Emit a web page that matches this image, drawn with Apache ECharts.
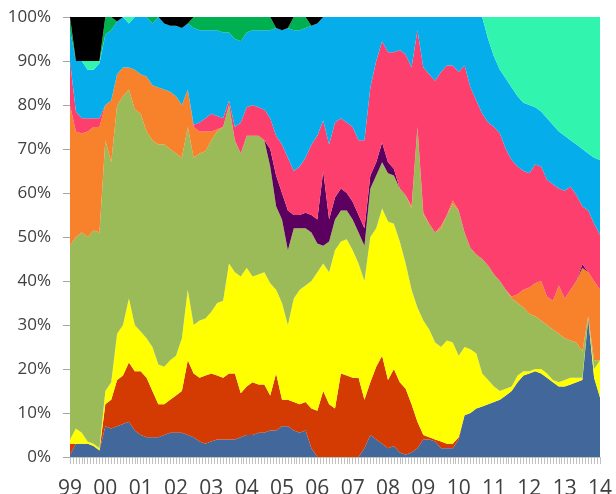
<!DOCTYPE html>
<html>
<head>
<meta charset="utf-8">
<script src="https://cdn.jsdelivr.net/npm/echarts@6/dist/echarts.min.js"></script>
<style>
  html, body { margin: 0; padding: 0; background: #fff; }
  #chart { width: 616px; height: 494px; }
</style>
</head>
<body>
<div id="chart"></div>
<script>
// Share of each group, sampled six times a year from Jan 1999 to Jan 2014 (percent).
const startYear = 1999;
const pointsPerYear = 6;
const yearLabels = ['99','00','01','02','03','04','05','06','07','08','09','10','11','12','13','14'];

const blueShare = [
  0.5,3,3,3,2.5,1.5, 7,6.5,7,7.5,8,6, 5,4.5,4.5,4.5,5,5.5, 5.5,5.5,5,4.5,3.5,3,
  3.5,4,4,4,4,4.5, 5,5,5.5,5.5,6,6, 7,7,6,5.5,6,2, 0,0,0,0,0,0,
  0,0,2,5,4,3, 2,2.5,1,0.5,1,2, 4,4,3.5,2,2,2, 4,9.5,10,11,11.5,12,
  12.5,13,14,15,17,18.5, 19,19.5,19,18,17,16, 16,16.5,17,17.5,31.5,18, 13.5];
const redShare = [
  2.5,0,0,0,0,0, 5,6.5,10.5,11,13.5,13.5, 14.5,13.5,10.5,7.5,7,7.5, 8.5,9.5,17,14.5,14.5,15.5,
  15.5,14.5,14,15,15,10, 11,12,11,11,8,13, 6,6,6.5,6.5,6.5,9, 10.5,15,12,11,19,18.5,
  18,18,11,12,16.5,20, 15.5,17.5,16,15,11,6, 1,0.5,0.5,1.5,1,1, 0.5,0,0,0,0,0,
  0,0,0,0,0,0, 0,0,0,0,0,0, 0,0,0,0,0,0, 0];
const yellowShare = [
  1,3.5,2.5,0.5,0.5,0.5, 3,4,10.5,11.5,14.5,10.5, 9,9,10,9,8.5,9, 9,12,16,11,13,13,
  14,16.5,17.5,25,23,26.5, 27,24,25,25.5,25.5,19, 22,17,23.5,26,26.5,29, 31.5,29,30,36,30,31,
  29,26,27,33,31.5,33.5, 36,33,32,28.5,26,26, 26,24.5,22,21.5,23.5,23, 18.5,15.5,14.5,12.5,7.5,5.5,
  3.5,2,1.5,1,1.5,1, 0.5,0.5,1,1,0.5,1, 1.5,1.5,1,0.5,0,2, 8.5];
const oliveShare = [
  44,43.5,45.5,46.5,48.5,49, 57,50,52,52,47.5,49, 49.5,47,47,50,50.5,48, 46,41,37,38,38,38,
  39,39,39.5,36,30,28, 30,32,31.5,30,26.5,19, 19,17,16,14,13,11, 6.5,4,7,7,7,6.5,
  7,7,8,11,12,10.5, 11,11,12,15.5,18.5,41, 24,24,25,27,28.5,31.5, 33,26,23,22.5,26,26,
  25.5,25,22.5,20,16.5,14.5, 13,12,11,11,11.5,11, 9.5,8.5,8,6,0.5,2, 0];
const orangeShare = [
  32,24,22.5,24,23.5,24, 8,14,7,6.5,5,9, 9,12.5,12.5,13,12.5,13, 13,12,8.5,7,5,4.5,
  2,0.5,0,0,0,0, 0,0,0,0,0,0, 0,0,0,0,0,0, 0,0,0,0,0,0,
  0,0,0,0,0,0, 0,0,0,0,0.5,0, 0.5,0,0,0.5,0,0.8, 0,0,0,0,0,0,
  0,0,0,0.5,2,4, 6,7.5,9,6.5,6.5,11, 9,11.5,14,19,10,18, 16];
const purpleShare = [
  0,0,0,0,0,0, 0,0,0,0,0,0, 0,0,0,0,0,0, 0,0,0,0,0,0,
  0,0,0,0,0,0, 0,0,0,0,4,7, 6,9,3,3,3.5,4, 5.5,17,5,5,5,4,
  4,4,4,3,3,4.5, 2.5,1.5,0,0,0,0, 0,0,0,0,0,0, 0,0,0,0,0,0,
  0,0,0,0,0,0, 0,0,0,0,0,0, 0,0,0,0.8,0,0, 0];
const pinkShare = [
  10,4.5,3.5,3,2,2, 0,0,0,0,0,0, 0,0,0,0,0,0, 0,0,0,0.5,2,3,
  4,3,2,1,3,7, 6.5,7,6.5,7,7,9, 11,12,10,11,12.5,16, 19,11.5,17,17,16,16,
  17,17,20,20,23,23, 25,26.5,31.5,32,31.5,22, 33,34,34.5,35,34,30.7, 31.5,38,36.5,35,33,32.5,
  33.5,33.5,32,31,29,27, 26,27,26,26.5,26.5,22, 24.5,23.5,19.5,13.2,14,13, 12.5];
const skyShare = [
  7,11.5,13,11,11,12.5, 16,16,12,11.5,10,12, 13,13.5,14,16,15,15, 16,17.5,15,22,21,20,
  19,19.5,19.5,15.5,20,18.5, 17,17,17.5,18,20,24.5, 26,29.5,32,31,29.5,27, 25.5,23.5,29,24,23,24,
  25,28,28,16,10,5.5, 8,8,7.5,8.5,11.5,3, 11.5,13,14.5,12.5,11,11, 12.5,11,16,19,22,19,
  16,14.5,16,16.5,16,15.5, 15.5,13,12.5,14,13.5,13, 12.5,10.5,11.5,13,13,15, 17];
const mintShare = [
  0,0,0,2,2,0.5, 0,0,0,0,1.5,0, 0,0,0,0,0,0, 0,0,0,0,0,0,
  0,0,0,0,0,0, 0,0,0,0,0,0, 0,0,0,0,0,0, 0,0,0,0,0,0,
  0,0,0,0,0,0, 0,0,0,0,0,0, 0,0,0,0,0,0, 0,0,0,0,0,5,
  9,12,14,16,18,19.5, 20,20.5,21.5,23,24.5,26, 27,28,29,30,31,32, 32.5];
const greenShare = [
  3,0,0,0,0,0, 4,3,0,0,0,0, 0,0,1.5,0,0,0, 0,0,0,2.5,3,3,
  3,3,3.5,3.5,5,5.5, 3.5,3,3,3,3,0, 0,0,3,3,2.5,0, 0,0,0,0,0,0,
  0,0,0,0,0,0, 0,0,0,0,0,0, 0,0,0,0,0,0, 0,0,0,0,0,0,
  0,0,0,0,0,0, 0,0,0,0,0,0, 0,0,0,0,0,0, 0];
const blackShare = [
  0,10,10,10,10,10, 0,0,1,0,0,0, 0,0,0,0,1.5,2, 2,2.5,1.5,0,0,0,
  0,0,0,0,0,0, 0,0,0,0,0,2.5, 3,2.5,0,0,0,2, 1.5,0,0,0,0,0,
  0,0,0,0,0,0, 0,0,0,0,0,0, 0,0,0,0,0,0, 0,0,0,0,0,0,
  0,0,0,0,0,0, 0,0,0,0,0,0, 0,0,0,0,0,0, 0];

// Stack order, bottom to top
const groups = [
  { values: blueShare,   color: '#41679B' },
  { values: redShare,    color: '#D33B03' },
  { values: yellowShare, color: '#FFFF00' },
  { values: oliveShare,  color: '#9BBB59' },
  { values: orangeShare, color: '#F7822B' },
  { values: purpleShare, color: '#5B005E' },
  { values: pinkShare,   color: '#FC3F6C' },
  { values: skyShare,    color: '#05AEEB' },
  { values: mintShare,   color: '#31F5AE' },
  { values: greenShare,  color: '#00B050' },
  { values: blackShare,  color: '#000000' }
];

// 100% stacking: scale every column to a total of 100
const n = blueShare.length;
const totals = [];
for (let i = 0; i < n; i++) {
  let t = 0;
  groups.forEach(g => { t += g.values[i]; });
  totals.push(t);
}

// Each item is [share, time]; the share comes first so the stack adds up shares.
const series = groups.map(g => ({
  type: 'line',
  stack: 'share',
  symbol: 'none',
  smooth: false,
  encode: { x: 1, y: 0 },
  lineStyle: { width: 0 },
  areaStyle: { color: g.color, opacity: 1 },
  itemStyle: { color: g.color },
  data: g.values.map((v, i) => [v / totals[i] * 100, startYear + i / pointsPerYear])
}));

const chart = echarts.init(document.getElementById('chart'), null, { renderer: 'canvas' });
chart.setOption({
  animation: false,
  backgroundColor: '#ffffff',
  grid: { left: 70, right: 16, top: 17, bottom: 37, containLabel: false, outerBoundsMode: 'none' },
  xAxis: {
    type: 'value',
    min: startYear,
    max: startYear + yearLabels.length - 1,
    interval: 1,
    axisLine: { show: true, lineStyle: { color: '#BFBFBF', width: 1 } },
    axisTick: { show: true, length: 7, lineStyle: { color: '#BFBFBF' } },
    minorTick: { show: true, splitNumber: 12, length: 7, lineStyle: { color: '#BFBFBF' } },
    splitLine: { show: false },
    axisLabel: {
      margin: 22,
      color: '#404040',
      fontFamily: 'Open Sans',
      fontSize: 21,
      formatter: v => {
        const k = Math.round(v - startYear);
        return Math.abs(v - startYear - k) < 1e-6 ? (yearLabels[k] || '') : '';
      }
    }
  },
  yAxis: {
    type: 'value',
    min: 0,
    max: 100,
    interval: 10,
    axisLine: { show: true, lineStyle: { color: '#BFBFBF' } },
    axisTick: { show: true, length: 7, lineStyle: { color: '#A6A6A6' } },
    splitLine: { show: false },
    axisLabel: {
      margin: 19,
      color: '#404040',
      fontFamily: 'Open Sans',
      fontSize: 17,
      formatter: '{value}%'
    }
  },
  series: series
});
</script>
</body>
</html>
